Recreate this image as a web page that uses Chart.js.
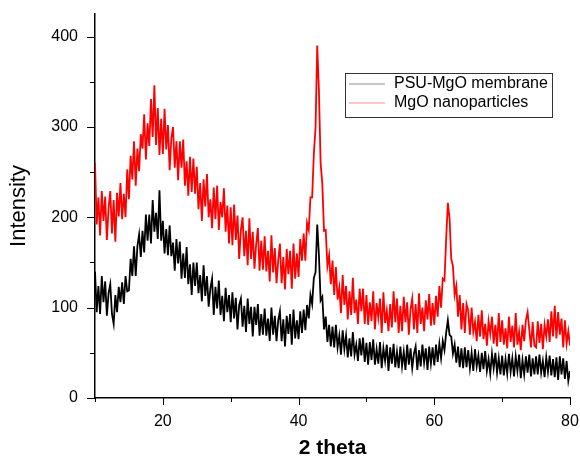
<!DOCTYPE html>
<html>
<head>
<meta charset="utf-8">
<script src="https://cdn.jsdelivr.net/npm/chart.js@4.4.1/dist/chart.umd.min.js"></script>
<style>
  html, body { margin: 0; padding: 0; background: #fff; }
  #wrap { width: 580px; height: 457px; }
</style>
</head>
<body>
<div id="wrap"><canvas id="xrd" width="580" height="457"></canvas></div>
<script>
// 2 theta scan positions (deg)
const twoTheta = [
  10, 10.25, 10.5, 10.75, 11, 11.25, 11.5, 11.75, 12, 12.25, 12.5, 12.75, 13, 13.25, 13.5, 13.75, 14, 14.25, 14.5, 14.75,
  15, 15.25, 15.5, 15.75, 16, 16.25, 16.5, 16.75, 17, 17.25, 17.5, 17.75, 18, 18.25, 18.5, 18.75, 19, 19.25, 19.5, 19.75,
  20, 20.25, 20.5, 20.75, 21, 21.25, 21.5, 21.75, 22, 22.25, 22.5, 22.75, 23, 23.25, 23.5, 23.75, 24, 24.25, 24.5, 24.75,
  25, 25.25, 25.5, 25.75, 26, 26.25, 26.5, 26.75, 27, 27.25, 27.5, 27.75, 28, 28.25, 28.5, 28.75, 29, 29.25, 29.5, 29.75,
  30, 30.25, 30.5, 30.75, 31, 31.25, 31.5, 31.75, 32, 32.25, 32.5, 32.75, 33, 33.25, 33.5, 33.75, 34, 34.25, 34.5, 34.75,
  35, 35.25, 35.5, 35.75, 36, 36.25, 36.5, 36.75, 37, 37.25, 37.5, 37.75, 38, 38.25, 38.5, 38.75, 39, 39.25, 39.5, 39.75,
  40, 40.25, 40.5, 40.75, 41, 41.25, 41.5, 41.75, 42, 42.25, 42.5, 42.75, 43, 43.25, 43.5, 43.75, 44, 44.25, 44.5, 44.75,
  45, 45.25, 45.5, 45.75, 46, 46.25, 46.5, 46.75, 47, 47.25, 47.5, 47.75, 48, 48.25, 48.5, 48.75, 49, 49.25, 49.5, 49.75,
  50, 50.25, 50.5, 50.75, 51, 51.25, 51.5, 51.75, 52, 52.25, 52.5, 52.75, 53, 53.25, 53.5, 53.75, 54, 54.25, 54.5, 54.75,
  55, 55.25, 55.5, 55.75, 56, 56.25, 56.5, 56.75, 57, 57.25, 57.5, 57.75, 58, 58.25, 58.5, 58.75, 59, 59.25, 59.5, 59.75,
  60, 60.25, 60.5, 60.75, 61, 61.25, 61.5, 61.75, 62, 62.25, 62.5, 62.75, 63, 63.25, 63.5, 63.75, 64, 64.25, 64.5, 64.75,
  65, 65.25, 65.5, 65.75, 66, 66.25, 66.5, 66.75, 67, 67.25, 67.5, 67.75, 68, 68.25, 68.5, 68.75, 69, 69.25, 69.5, 69.75,
  70, 70.25, 70.5, 70.75, 71, 71.25, 71.5, 71.75, 72, 72.25, 72.5, 72.75, 73, 73.25, 73.5, 73.75, 74, 74.25, 74.5, 74.75,
  75, 75.25, 75.5, 75.75, 76, 76.25, 76.5, 76.75, 77, 77.25, 77.5, 77.75, 78, 78.25, 78.5, 78.75, 79, 79.25, 79.5, 79.75,
  80,
];

// PSU-MgO membrane intensity
const psuMgO = [
  140, 95, 124, 93, 135, 106, 129, 91, 116, 126, 93, 82, 114, 95, 123, 106, 128, 104, 135, 118,
  119, 154, 135, 168, 135, 168, 181, 156, 185, 161, 203, 174, 203, 171, 219, 184, 205, 176, 230, 174,
  196, 160, 187, 158, 191, 157, 172, 141, 176, 149, 173, 132, 160, 133, 167, 126, 148, 114, 150, 124,
  150, 116, 136, 107, 147, 113, 135, 101, 121, 132, 92, 123, 99, 130, 92, 113, 85, 122, 95, 114,
  84, 117, 88, 111, 76, 103, 110, 79, 102, 73, 110, 82, 101, 68, 101, 81, 104, 69, 93, 70,
  99, 69, 88, 63, 100, 70, 91, 63, 86, 96, 63, 87, 57, 91, 71, 93, 59, 98, 66, 86,
  65, 96, 72, 98, 75, 103, 88, 114, 104, 133, 139, 192, 158, 108, 112, 76, 90, 62, 81, 57,
  79, 56, 81, 56, 69, 48, 75, 54, 69, 45, 66, 46, 73, 48, 59, 41, 66, 47, 67, 40,
  61, 37, 62, 42, 65, 37, 54, 38, 62, 33, 55, 41, 59, 30, 56, 38, 60, 34, 51, 33,
  57, 35, 51, 31, 59, 37, 55, 33, 49, 57, 31, 53, 35, 59, 39, 55, 31, 57, 38, 56,
  36, 59, 40, 60, 44, 63, 53, 72, 86, 70, 68, 49, 59, 39, 57, 34, 55, 33, 56, 34,
  53, 33, 50, 30, 54, 35, 47, 29, 50, 32, 52, 30, 43, 27, 49, 33, 50, 28, 44, 26,
  47, 25, 43, 27, 49, 29, 44, 24, 46, 30, 48, 22, 42, 26, 46, 28, 48, 24, 44, 26,
  46, 26, 48, 28, 41, 23, 45, 29, 47, 25, 43, 23, 45, 20, 46, 26, 44, 21, 41, 19,
  30,
];

// MgO nanoparticles intensity
const mgoNano = [
  260, 192, 222, 180, 229, 196, 223, 175, 210, 229, 182, 219, 173, 227, 201, 238, 198, 226, 200, 253,
  220, 268, 242, 284, 235, 276, 251, 292, 276, 314, 264, 304, 279, 331, 289, 346, 280, 321, 269, 309,
  270, 320, 275, 302, 252, 287, 300, 255, 284, 241, 284, 255, 286, 235, 262, 224, 267, 228, 265, 226,
  256, 209, 238, 196, 242, 212, 248, 200, 220, 188, 233, 198, 235, 186, 217, 200, 232, 184, 213, 171,
  211, 169, 214, 175, 202, 154, 186, 200, 157, 185, 147, 199, 154, 184, 143, 170, 188, 141, 174, 142,
  179, 140, 163, 129, 180, 139, 166, 127, 152, 171, 127, 156, 120, 165, 137, 163, 121, 171, 132, 160,
  134, 176, 152, 182, 152, 194, 186, 222, 222, 270, 299, 390, 340, 260, 237, 185, 186, 146, 158, 126,
  152, 114, 145, 109, 122, 94, 136, 103, 124, 87, 118, 92, 133, 94, 109, 82, 121, 96, 121, 82,
  114, 81, 106, 85, 118, 76, 105, 89, 110, 72, 117, 83, 97, 74, 104, 78, 118, 84, 110, 72,
  102, 74, 112, 84, 106, 70, 98, 110, 76, 104, 72, 116, 82, 100, 74, 108, 87, 115, 80, 105,
  81, 113, 90, 124, 100, 132, 130, 176, 216, 199, 154, 146, 114, 124, 90, 114, 76, 105, 72, 104,
  97, 70, 100, 73, 84, 63, 92, 68, 97, 65, 82, 58, 85, 71, 90, 60, 81, 57, 94, 62,
  86, 59, 77, 55, 90, 62, 80, 56, 94, 59, 73, 53, 81, 63, 86, 95, 76, 56, 84, 58,
  56, 85, 61, 82, 54, 81, 68, 87, 62, 96, 68, 102, 66, 95, 70, 88, 56, 86, 60, 74,
  58,
];

const seriesNames = ['PSU-MgO membrane', 'MgO nanoparticles'];
const seriesColors = ['#000000', '#ff0000'];

const xMajor = [20, 40, 60, 80];
const xMinor = [10, 30, 50, 70];
const yMajor = [0, 100, 200, 300, 400];
const yMinor = [50, 150, 250, 350];

const FONT = "'Liberation Sans', Arial, Helvetica, sans-serif";

const toPoints = (ys) => twoTheta.map((t, i) => ({ x: t, y: ys[i] }));

// tick marks drawn outside the axes, long for labelled, short for minor
const tickMarks = {
  id: 'tickMarks',
  afterDraw(chart) {
    const { ctx, scales: { x, y } } = chart;
    ctx.save();
    ctx.strokeStyle = '#000';
    ctx.lineWidth = 1;
    ctx.beginPath();
    const yTick = (v, len) => {
      const py = Math.round(y.getPixelForValue(v)) + 0.5;
      ctx.moveTo(x.left - len, py);
      ctx.lineTo(x.left, py);
    };
    const xTick = (v, len) => {
      const px = Math.round(x.getPixelForValue(v)) + 0.5;
      ctx.moveTo(px, y.bottom);
      ctx.lineTo(px, y.bottom + len);
    };
    yMajor.forEach((v) => yTick(v, 8));
    yMinor.forEach((v) => yTick(v, 5));
    xMajor.forEach((v) => xTick(v, 7));
    xMinor.forEach((v) => xTick(v, 4));
    ctx.stroke();
    ctx.restore();
  },
};

// boxed legend in the upper right
const boxLegend = {
  id: 'boxLegend',
  afterDraw(chart) {
    const { ctx } = chart;
    const left = 345;
    const top = 73;
    ctx.save();
    ctx.strokeStyle = '#333';
    ctx.lineWidth = 1;
    ctx.strokeRect(left + 0.5, top + 0.5, 207, 44);
    ctx.font = `16px ${FONT}`;
    ctx.textBaseline = 'middle';
    ctx.fillStyle = '#000';
    chart.data.datasets.forEach((ds, i) => {
      const cy = top + 11 + i * 19;
      ctx.strokeStyle = ds.borderColor;
      ctx.globalAlpha = 0.45;
      ctx.lineWidth = 1;
      ctx.beginPath();
      ctx.moveTo(left + 4, cy);
      ctx.lineTo(left + 40, cy);
      ctx.stroke();
      ctx.globalAlpha = 1;
      ctx.fillText(ds.label, left + 49, cy);
    });
    ctx.restore();
  },
};

new Chart(document.getElementById('xrd'), {
  type: 'line',
  data: {
    datasets: [
      {
        label: seriesNames[0],
        data: toPoints(psuMgO),
        borderColor: seriesColors[0],
        borderWidth: 1.8,
        pointRadius: 0,
        tension: 0,
      },
      {
        label: seriesNames[1],
        data: toPoints(mgoNano),
        borderColor: seriesColors[1],
        borderWidth: 1.8,
        pointRadius: 0,
        tension: 0,
      },
    ],
  },
  options: {
    responsive: false,
    animation: false,
    devicePixelRatio: 1,
    layout: {
      padding: { top: 14, right: 10, left: 0, bottom: 0 },
    },
    plugins: {
      legend: { display: false },
      tooltip: { enabled: false },
    },
    scales: {
      x: {
        type: 'linear',
        min: 10,
        max: 80,
        afterBuildTicks: (axis) => { axis.ticks = xMajor.map((v) => ({ value: v })); },
        afterFit: (axis) => {
          axis.height = 59;
          axis.paddingLeft = 0;
          axis.paddingRight = 0;
        },
        grid: { drawOnChartArea: false, drawTicks: false },
        border: { display: true, color: '#000', width: 1.5 },
        ticks: {
          padding: 14,
          color: '#000',
          font: { family: FONT, size: 16 },
          maxRotation: 0,
        },
        title: {
          display: true,
          text: '2 theta',
          color: '#000',
          font: { family: FONT, size: 21, weight: 'bold', lineHeight: 0.8 },
          padding: 0,
        },
      },
      y: {
        type: 'linear',
        min: 0,
        max: 425,
        afterBuildTicks: (axis) => { axis.ticks = yMajor.map((v) => ({ value: v })); },
        afterFit: (axis) => {
          axis.width = 95;
          axis.paddingTop = 0;
          axis.paddingBottom = 0;
        },
        grid: { drawOnChartArea: false, drawTicks: false },
        border: { display: true, color: '#000', width: 1.5 },
        ticks: {
          padding: 17,
          color: '#000',
          font: { family: FONT, size: 16 },
        },
        title: {
          display: true,
          text: 'Intensity',
          color: '#000',
          font: { family: FONT, size: 22, lineHeight: 1 },
          padding: { top: 8, bottom: 0 },
        },
      },
    },
  },
  plugins: [tickMarks, boxLegend],
});
</script>
</body>
</html>
